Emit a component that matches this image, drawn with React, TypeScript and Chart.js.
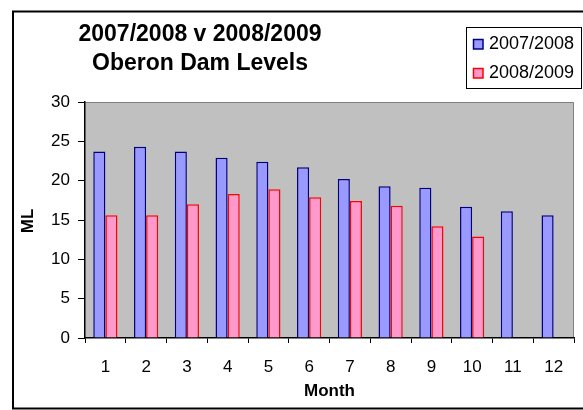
import React, { useEffect, useRef } from "react";
import { Chart, registerables } from "chart.js";

Chart.register(...registerables);

const months = ["1", "2", "3", "4", "5", "6", "7", "8", "9", "10", "11", "12"];
const series2007 = [23.7, 24.3, 23.7, 22.9, 22.4, 21.7, 20.2, 19.3, 19.1, 16.7, 16.1, 15.6];
const series2008 = [15.6, 15.6, 17.0, 18.3, 18.9, 17.9, 17.4, 16.8, 14.2, 12.9, null, null];
const seriesNames = ["2007/2008", "2008/2009"];
const titleLines = ["2007/2008 v 2008/2009", "Oberon Dam Levels"];
const yTitle = "ML";
const xTitle = "Month";

const FONT = "'Liberation Sans', Arial, Helvetica, sans-serif";

const decorPlugin = {
  id: "decor",
  beforeDraw(chart: any) {
    const { ctx, chartArea } = chart;
    const { left, top, right, bottom } = chartArea;
    ctx.save();
    ctx.fillStyle = "#ffffff";
    ctx.fillRect(0, 0, chart.width, chart.height);
    // outer border
    ctx.strokeStyle = "#000000";
    ctx.lineWidth = 2;
    ctx.strokeRect(13, 11.5, 620, 397);
    // plot background
    ctx.fillStyle = "#C0C0C0";
    ctx.fillRect(left, top, right - left, bottom - top);
    ctx.strokeStyle = "#808080";
    ctx.lineWidth = 1;
    ctx.beginPath();
    ctx.moveTo(left, top + 0.5);
    ctx.lineTo(right - 0.5, top + 0.5);
    ctx.lineTo(right - 0.5, bottom);
    ctx.stroke();
    ctx.restore();
  },
  afterDraw(chart: any) {
    const { ctx, chartArea } = chart;
    ctx.save();
    ctx.fillStyle = "#000000";
    // title
    ctx.font = `bold 23px ${FONT}`;
    ctx.textAlign = "center";
    ctx.textBaseline = "alphabetic";
    ctx.fillText(titleLines[0], 200, 41);
    ctx.fillText(titleLines[1], 200, 70);
    // legend box
    ctx.strokeStyle = "#000000";
    ctx.lineWidth = 1;
    ctx.fillStyle = "#ffffff";
    ctx.fillRect(466, 27, 116, 62);
    ctx.strokeRect(466.5, 27.5, 115, 61);
    ctx.font = `18px ${FONT}`;
    ctx.textAlign = "left";
    const baselines = [49, 78];
    chart.data.datasets.forEach((ds: any, i: number) => {
      const b = baselines[i];
      ctx.fillStyle = ds.backgroundColor;
      ctx.fillRect(473, b - 10, 10, 10);
      ctx.strokeStyle = ds.borderColor;
      ctx.lineWidth = 1.5;
      ctx.strokeRect(473.5, b - 9.5, 9.5, 9.5);
      ctx.fillStyle = "#000000";
      ctx.fillText(seriesNames[i], 489, b);
    });
    // axis titles
    ctx.font = `bold 17px ${FONT}`;
    ctx.textAlign = "center";
    ctx.textBaseline = "middle";
    ctx.fillText(xTitle, (chartArea.left + chartArea.right) / 2, 391);
    ctx.translate(28, 221);
    ctx.rotate(-Math.PI / 2);
    ctx.fillText(yTitle, 0, 0);
    ctx.restore();
  },
};

export default function App() {
  const ref = useRef<HTMLCanvasElement>(null);
  useEffect(() => {
    if (!ref.current) return;
    const chart = new Chart(ref.current, {
      type: "bar",
      data: {
        labels: months,
        datasets: [
          {
            label: seriesNames[0],
            data: series2007,
            backgroundColor: "#9999FF",
            borderColor: "#000080",
            borderWidth: 1.5,
            barPercentage: 1,
            categoryPercentage: 0.594,
          },
          {
            label: seriesNames[1],
            data: series2008 as any,
            backgroundColor: "#FF99CC",
            borderColor: "#FF0000",
            borderWidth: 1.5,
            barPercentage: 1,
            categoryPercentage: 0.594,
          },
        ],
      },
      options: {
        responsive: false,
        animation: false,
        devicePixelRatio: 1,
        layout: { padding: { left: 0, top: 102, right: 9, bottom: 0 } },
        plugins: {
          legend: { display: false },
          title: { display: false },
          tooltip: { enabled: false },
        },
        scales: {
          x: {
            type: "category",
            offset: true,
            grid: {
              offset: true,
              drawOnChartArea: false,
              drawTicks: true,
              tickLength: 5,
              color: "#000000",
            },
            border: { color: "#000000", width: 1.5 },
            ticks: {
              color: "#000000",
              font: { family: FONT, size: 17 },
              padding: 14,
              maxRotation: 0,
            },
            afterFit: (s: any) => {
              s.height = 72;
            },
          },
          y: {
            min: 0,
            max: 30,
            grid: {
              drawOnChartArea: false,
              drawTicks: true,
              tickLength: 7,
              color: "#000000",
            },
            border: { color: "#000000", width: 1.5 },
            ticks: {
              stepSize: 5,
              color: "#000000",
              font: { family: FONT, size: 17 },
              padding: 8,
            },
            afterFit: (s: any) => {
              s.width = 85;
            },
          },
        },
      },
      plugins: [decorPlugin],
    });
    return () => chart.destroy();
  }, []);
  return (
    <div style={{ position: "absolute", left: 0, top: 0, width: 583, height: 410 }}>
      <canvas ref={ref} width={583} height={410} style={{ display: "block" }} />
    </div>
  );
}
